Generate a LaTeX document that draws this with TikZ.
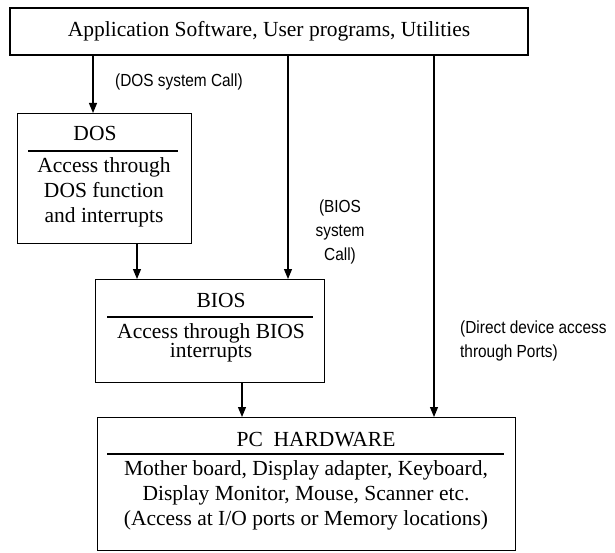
\documentclass[tikz,border=0pt]{standalone}
\usepackage{fontspec}
\setmainfont{Liberation Serif}
\newfontfamily\lblfont[FakeStretch=0.88]{Liberation Sans}
\usetikzlibrary{arrows.meta}

\begin{document}
\begin{tikzpicture}[
                x=1pt,y=-1pt,
                box/.style={draw,line width=1.3pt,inner sep=0pt},
                txt/.style={font=\fontsize{21.5}{25}\selectfont,align=center,inner sep=0pt},
                lbl/.style={font=\lblfont\fontsize{17.5}{24}\selectfont,inner sep=0pt},
                sep/.style={line width=1.3pt},
                arr/.style={-{Triangle[width=8pt,length=10pt]},line width=1.1pt}
            ]
                \useasboundingbox (0,0) rectangle (615,553);
                \node (app) [box,txt,minimum width=518pt,minimum height=47pt] at (269,31.5)
                    {Application Software, User programs, Utilities};
                \node (dos)  [box,anchor=north west,minimum width=174pt,minimum height=130pt] at (17,113) {};
                \node (bios) [box,anchor=north west,minimum width=229pt,minimum height=103pt] at (95,279) {};
                \node (pc)   [box,anchor=north west,minimum width=418pt,minimum height=133pt] at (97,417) {};
                \node (dostitle)  [txt] at (95,133) {DOS};
                \node (dosbody)   [txt] at (104,192) {Access through\\DOS function\\and interrupts};
                \node (biostitle) [txt] at (221,300) {BIOS};
                \node (biosbody)  [txt,font=\fontsize{21.5}{19.5}\selectfont] at (211,343) {Access through BIOS\\interrupts};
                \node (pctitle)   [txt] at (316,440) {PC\ \ HARDWARE};
                \node (pcbody)    [txt] at (306,495) {Mother board, Display adapter, Keyboard,\\Display Monitor, Mouse, Scanner etc.\\(Access at I/O ports or Memory locations)};
                \draw[sep] (28,151) -- (178,151);
                \draw[sep] (107,317) -- (313,317);
                \draw[sep] (107,454) -- (504,454);
                \coordinate (c1) at (93,0);
                \coordinate (c2) at (288,0);
                \coordinate (c3) at (434,0);
                \coordinate (c4) at (137,0);
                \coordinate (c5) at (242,0);
                \draw[arr] (c1 |- app.south) -- (c1 |- dos.north);
                \draw[arr] (c2 |- app.south) -- (c2 |- bios.north);
                \draw[arr] (c3 |- app.south) -- (c3 |- pc.north);
                \draw[arr] (c4 |- dos.south) -- (c4 |- bios.north);
                \draw[arr] (c5 |- bios.south) -- (c5 |- pc.north);
                \node (doscall)  [lbl,anchor=west] at (115,82) {(DOS system Call)};
                \node (bioscall) [lbl,align=center] at (340,232) {(BIOS\\system\\Call)};
                \node (portcall) [lbl,align=left,anchor=west] at (460,340.5) {(Direct device access\\through Ports)};
            \end{tikzpicture}
\end{document}
